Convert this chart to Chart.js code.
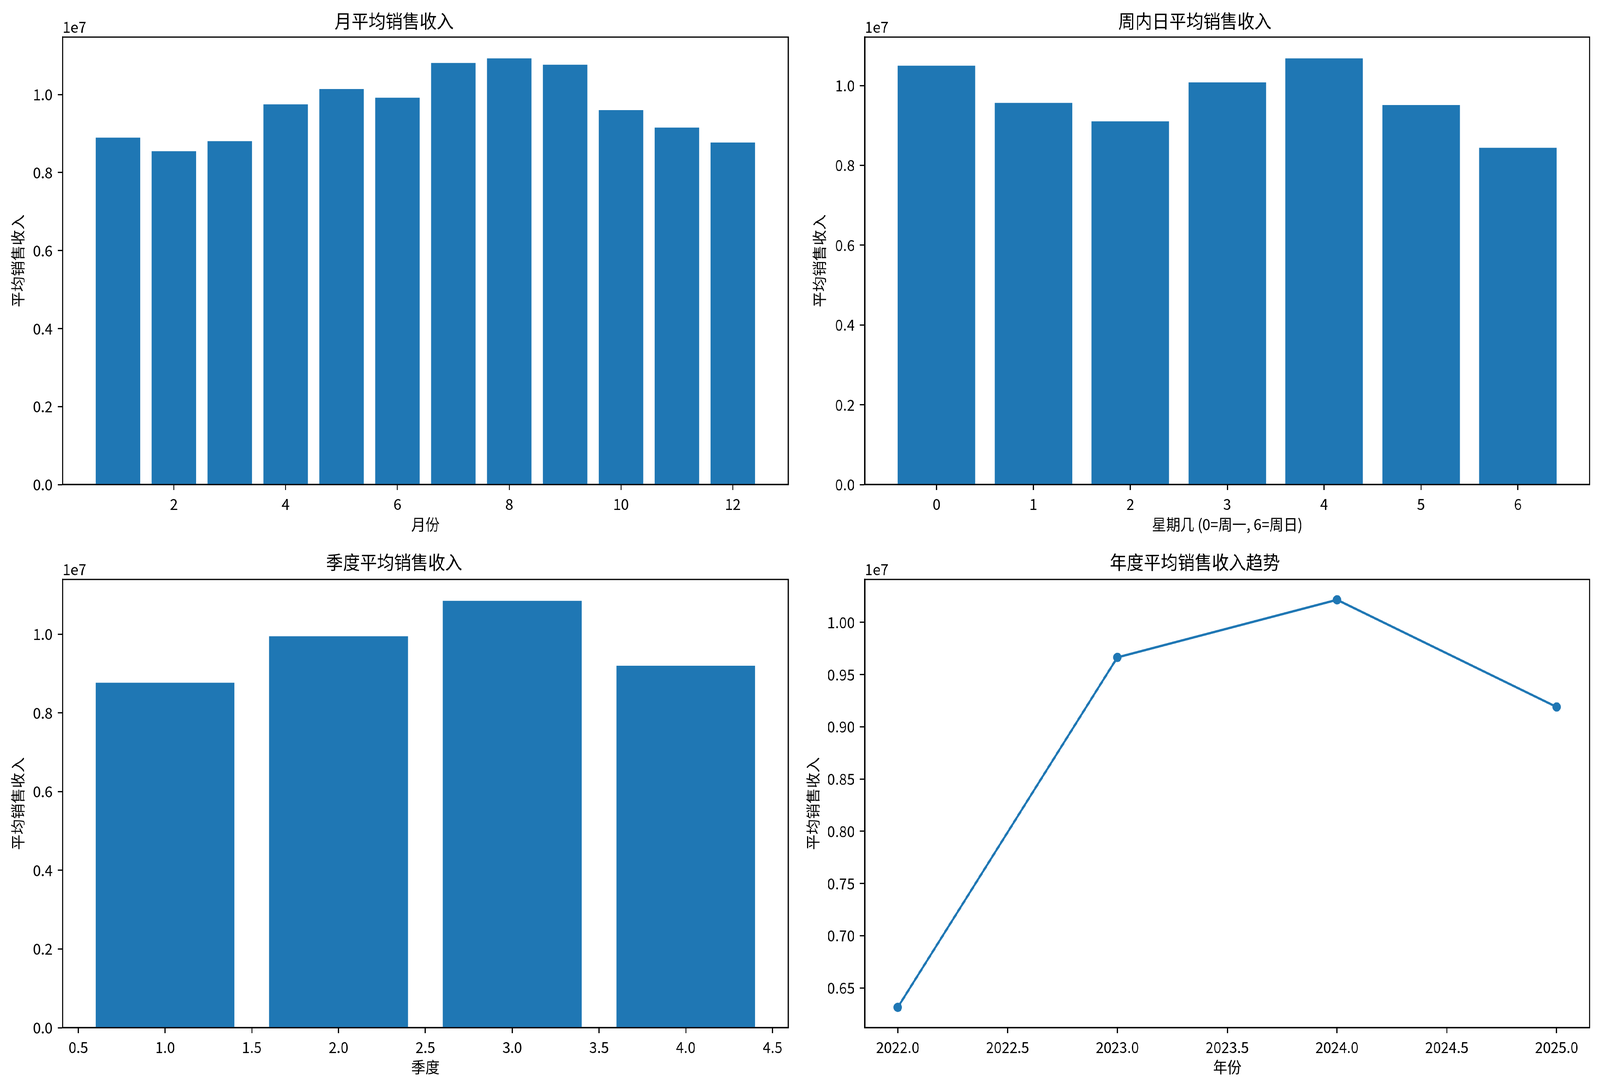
<!DOCTYPE html>
<html>
<head>
<meta charset="utf-8">
<script src="https://cdn.jsdelivr.net/npm/chart.js@4.4.1/dist/chart.umd.min.js"></script>
<style>
html, body { margin: 0; padding: 0; background: #fff; overflow: hidden; }
#wrap { position: absolute; left: 0; top: 0; width: 4468px; height: 2789px; transform-origin: 0 0; }
canvas { position: absolute; }
</style>
</head>
<body>
<div id="wrap">
  <canvas id="monthChart" width="2234" height="1395" style="left:0;top:0"></canvas>
  <canvas id="weekChart" width="2234" height="1395" style="left:2234px;top:0"></canvas>
  <canvas id="quarterChart" width="2234" height="1394" style="left:0;top:1395px"></canvas>
  <canvas id="yearChart" width="2234" height="1394" style="left:2234px;top:1395px"></canvas>
</div>
<script>
// values (sales in yuan, axis shown in 1e7)
const months = [1, 2, 3, 4, 5, 6, 7, 8, 9, 10, 11, 12];
const monthSales = [8895000, 8547000, 8806000, 9750000, 10143000, 9920000, 10810000, 10927000, 10766000, 9600000, 9153000, 8770000];
const monthTicks = [2, 4, 6, 8, 10, 12];

const weekdays = [0, 1, 2, 3, 4, 5, 6];
const weekdaySales = [10497000, 9564000, 9103000, 10078000, 10680000, 9512000, 8440000];
const weekdayTicks = [0, 1, 2, 3, 4, 5, 6];

const quarters = [1, 2, 3, 4];
const quarterSales = [8764000, 9947000, 10847000, 9197000];
const quarterTicks = [0.5, 1.0, 1.5, 2.0, 2.5, 3.0, 3.5, 4.0, 4.5];

const years = [2022, 2023, 2024, 2025];
const yearSales = [6314000, 9665000, 10216000, 9190000];
const yearTicks = [2022.0, 2022.5, 2023.0, 2023.5, 2024.0, 2024.5, 2025.0];

const barYTicks = [0, 2000000, 4000000, 6000000, 8000000, 10000000];
const yearYTicks = [6500000, 7000000, 7500000, 8000000, 8500000, 9000000, 9500000, 10000000];

// page is laid out at 4468 x 2789, then stretched to whatever the viewport really is
const sx = (window.innerWidth || 4468) / 4468;
const sy = (window.innerHeight || 2789) / 2789;
document.getElementById('wrap').style.transform = 'scale(' + sx + ',' + sy + ')';

const BLUE = '#1f77b4';
const FONT = '"Noto Sans CJK SC", "Noto Sans", sans-serif';
const TICK = 39.6;
const LW = 3.2;

Chart.defaults.font.family = FONT;
Chart.defaults.color = '#000';

// box around the axes + matplotlib style offset text
const framePlugin = {
  id: 'frame',
  afterDatasetsDraw(chart) {
    const a = chart.chartArea;
    const ctx = chart.ctx;
    ctx.save();
    ctx.strokeStyle = '#000';
    ctx.lineWidth = LW;
    ctx.strokeRect(a.left, a.top, a.right - a.left, a.bottom - a.top);
    ctx.fillStyle = '#000';
    ctx.font = TICK + 'px ' + FONT;
    ctx.textAlign = 'left';
    ctx.textBaseline = 'bottom';
    ctx.fillText('1e7', a.left, a.top - 6);
    ctx.restore();
  }
};

function axis(cfg) {
  return {
    type: 'linear',
    min: cfg.min,
    max: cfg.max,
    offset: false,
    afterBuildTicks: s => { s.ticks = cfg.ticks.map(v => ({ value: v })); },
    afterFit: s => { if (cfg.w) s.width = cfg.w; if (cfg.h) s.height = cfg.h; },
    grid: { display: true, drawOnChartArea: false, drawTicks: true, tickLength: 14, tickWidth: LW, tickColor: '#000', offset: false },
    border: { display: true, color: '#000', width: LW },
    ticks: {
      color: '#000',
      font: { size: TICK },
      padding: cfg.tpad,
      maxRotation: 0,
      autoSkip: false,
      callback: v => cfg.fmt(v)
    },
    title: {
      display: true,
      text: cfg.label,
      color: '#000',
      font: { size: TICK },
      padding: { top: cfg.lpad[0], bottom: cfg.lpad[1] }
    }
  };
}

function makeChart(id, cfg) {
  new Chart(document.getElementById(id), {
    type: cfg.type,
    data: { datasets: [cfg.dataset] },
    options: {
      responsive: false,
      devicePixelRatio: 1,
      animation: false,
      events: [],
      layout: { padding: { left: 0, right: cfg.right, top: 0, bottom: 0 } },
      plugins: {
        legend: { display: false },
        tooltip: { enabled: false },
        title: {
          display: true,
          text: cfg.title,
          color: '#000',
          font: { size: 47.5, weight: 'normal' },
          padding: { top: cfg.titlePad[0], bottom: cfg.titlePad[1] }
        }
      },
      scales: { x: cfg.x, y: cfg.y }
    },
    plugins: [framePlugin]
  });
}

// catPct: data spacing / smallest tick spacing (Chart.js measures bar room from both)
function barSet(xs, ys, catPct) {
  return {
    data: xs.map((x, i) => ({ x: x, y: ys[i] })),
    backgroundColor: BLUE,
    borderWidth: 0,
    barPercentage: 0.8,
    categoryPercentage: catPct
  };
}

function barRange(xs) {
  const lo = xs[0] - 0.4, hi = xs[xs.length - 1] + 0.4;
  const m = 0.05 * (hi - lo);
  return [lo - m, hi + m];
}

const f1 = v => (v / 1e7).toFixed(1);

// 月平均销售收入
let r = barRange(months);
makeChart('monthChart', {
  type: 'bar', title: '月平均销售收入', right: 33, titlePad: [25, 13],
  dataset: barSet(months, monthSales, 1),
  x: axis({ min: r[0], max: r[1], ticks: monthTicks, fmt: v => v.toFixed(0), label: '月份', h: 154, tpad: 12, lpad: [0, 28] }),
  y: axis({ min: 0, max: Math.max(...monthSales) * 1.05, ticks: barYTicks, fmt: f1, label: '平均销售收入', w: 175, tpad: 14, lpad: [26, 0] })
});

// 周内日平均销售收入
r = barRange(weekdays);
makeChart('weekChart', {
  type: 'bar', title: '周内日平均销售收入', right: 29, titlePad: [25, 13],
  dataset: barSet(weekdays, weekdaySales, 1),
  x: axis({ min: r[0], max: r[1], ticks: weekdayTicks, fmt: v => v.toFixed(0), label: '星期几 (0=周一, 6=周日)', h: 154, tpad: 12, lpad: [0, 28] }),
  y: axis({ min: 0, max: Math.max(...weekdaySales) * 1.05, ticks: barYTicks, fmt: f1, label: '平均销售收入', w: 181, tpad: 14, lpad: [30, 0] })
});

// 季度平均销售收入
r = barRange(quarters);
makeChart('quarterChart', {
  type: 'bar', title: '季度平均销售收入', right: 33, titlePad: [16, 16],
  dataset: barSet(quarters, quarterSales, 2),
  x: axis({ min: r[0], max: r[1], ticks: quarterTicks, fmt: v => v.toFixed(1), label: '季度', h: 157, tpad: 12, lpad: [0, 32] }),
  y: axis({ min: 0, max: Math.max(...quarterSales) * 1.05, ticks: barYTicks, fmt: f1, label: '平均销售收入', w: 175, tpad: 14, lpad: [26, 0] })
});

// 年度平均销售收入趋势
const yLo = Math.min(...yearSales), yHi = Math.max(...yearSales);
const yM = 0.05 * (yHi - yLo);
const xM = 0.05 * (years[years.length - 1] - years[0]);
makeChart('yearChart', {
  type: 'line', title: '年度平均销售收入趋势', right: 29, titlePad: [16, 16],
  dataset: {
    data: years.map((x, i) => ({ x: x, y: yearSales[i] })),
    borderColor: BLUE,
    borderWidth: 5.9,
    backgroundColor: BLUE,
    pointBackgroundColor: BLUE,
    pointBorderWidth: 0,
    pointRadius: 11.9,
    tension: 0,
    fill: false
  },
  x: axis({ min: years[0] - xM, max: years[years.length - 1] + xM, ticks: yearTicks, fmt: v => v.toFixed(1), label: '年份', h: 157, tpad: 12, lpad: [0, 32] }),
  y: axis({ min: yLo - yM, max: yHi + yM, ticks: yearYTicks, fmt: v => (v / 1e7).toFixed(2), label: '平均销售收入', w: 181, tpad: 14, lpad: [12, 0] })
});
</script>
</body>
</html>
